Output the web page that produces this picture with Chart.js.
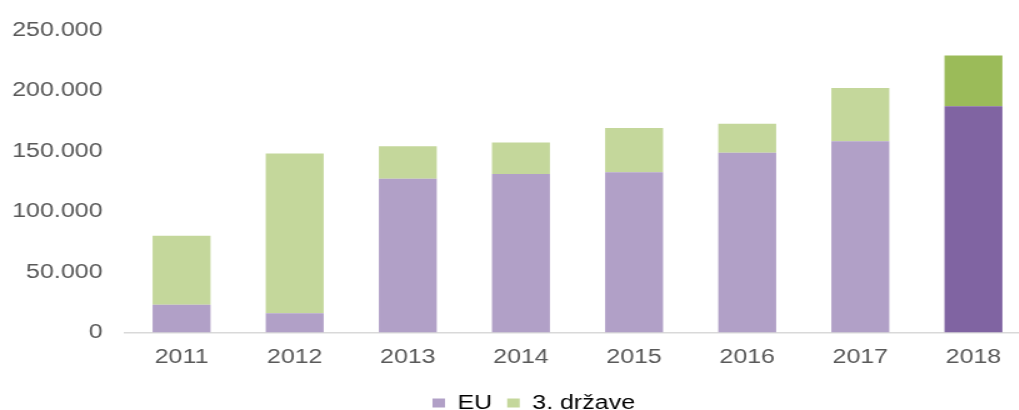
<!DOCTYPE html>
<html>
<head>
<meta charset="utf-8">
<script src="https://cdn.jsdelivr.net/npm/chart.js@4.4.1/dist/chart.umd.min.js"></script>
<style>
  html, body { margin: 0; padding: 0; overflow: hidden; background: #ffffff; width: 1019px; height: 410px; }
  #wrap { position: absolute; left: 0; top: 0; width: 851px; height: 423px; transform: scaleX(1.25); transform-origin: 0 0; }
  canvas { display: block; }
</style>
</head>
<body>
<div id="wrap"><canvas id="c" width="851" height="423"></canvas></div>
<script>
const categories = ['2011', '2012', '2013', '2014', '2015', '2016', '2017', '2018'];
const euValues = [23000, 16000, 127000, 131000, 132500, 148500, 158000, 187000];
const thirdValues = [57000, 132000, 27000, 26000, 36500, 24000, 44000, 42000];
const seriesNames = ['EU', '3. države'];
const yTicks = [0, 50000, 100000, 150000, 200000, 250000];

const last = categories.length - 1;
const euColors = categories.map((_, i) => i === last ? '#8064a2' : '#b1a0c7');
const thirdColors = categories.map((_, i) => i === last ? '#9bbb59' : '#c4d79b');

Chart.defaults.font.family = '"Liberation Sans", Arial, sans-serif';
Chart.defaults.font.size = 20;
Chart.defaults.color = '#595959';

const legendShift = {
  id: 'legendShift',
  afterLayout(chart) {
    if (chart.legend) { chart.legend.left += 15; chart.legend.right += 15; }
  }
};

new Chart(document.getElementById('c'), {
  type: 'bar',
  data: {
    labels: categories,
    datasets: [
      { label: seriesNames[0], data: euValues, backgroundColor: euColors, borderWidth: 0,
        barPercentage: 0.64, categoryPercentage: 0.8 },
      { label: seriesNames[1], data: thirdValues, backgroundColor: thirdColors, borderWidth: 0,
        barPercentage: 0.64, categoryPercentage: 0.8 }
    ]
  },
  plugins: [legendShift],
  options: {
    responsive: false,
    animation: false,
    layout: { padding: { top: 16, right: 27, left: 0, bottom: 0 } },
    plugins: {
      tooltip: { enabled: false },
      legend: {
        position: 'bottom',
        labels: {
          boxWidth: 10, boxHeight: 9, padding: 12,
          color: '#595959',
          font: { size: 20 },
          generateLabels: (chart) => chart.data.datasets.map((ds, i) => ({
            text: ds.label,
            fillStyle: i === 0 ? '#b1a0c7' : '#c4d79b',
            strokeStyle: 'rgba(0,0,0,0)',
            lineWidth: 0,
            datasetIndex: i,
            hidden: false
          }))
        }
      }
    },
    scales: {
      x: {
        stacked: true,
        grid: { display: false, drawTicks: false },
        border: { display: true, color: '#d9d9d9', width: 1.5 },
        ticks: { padding: 13, color: '#595959' },
        afterFit: (s) => { s.height -= 1.5; }
      },
      y: {
        stacked: true,
        min: 0, max: 250000,
        afterBuildTicks: (s) => { s.ticks = yTicks.map(v => ({ value: v })); },
        grid: { display: false, drawTicks: false },
        border: { display: false },
        ticks: {
          padding: 18,
          color: '#595959',
          callback: (v) => v === 0 ? '0' : Number(v).toLocaleString('de-DE')
        },
        afterFit: (s) => { s.width = 100; }
      }
    }
  }
});
</script>
</body>
</html>
